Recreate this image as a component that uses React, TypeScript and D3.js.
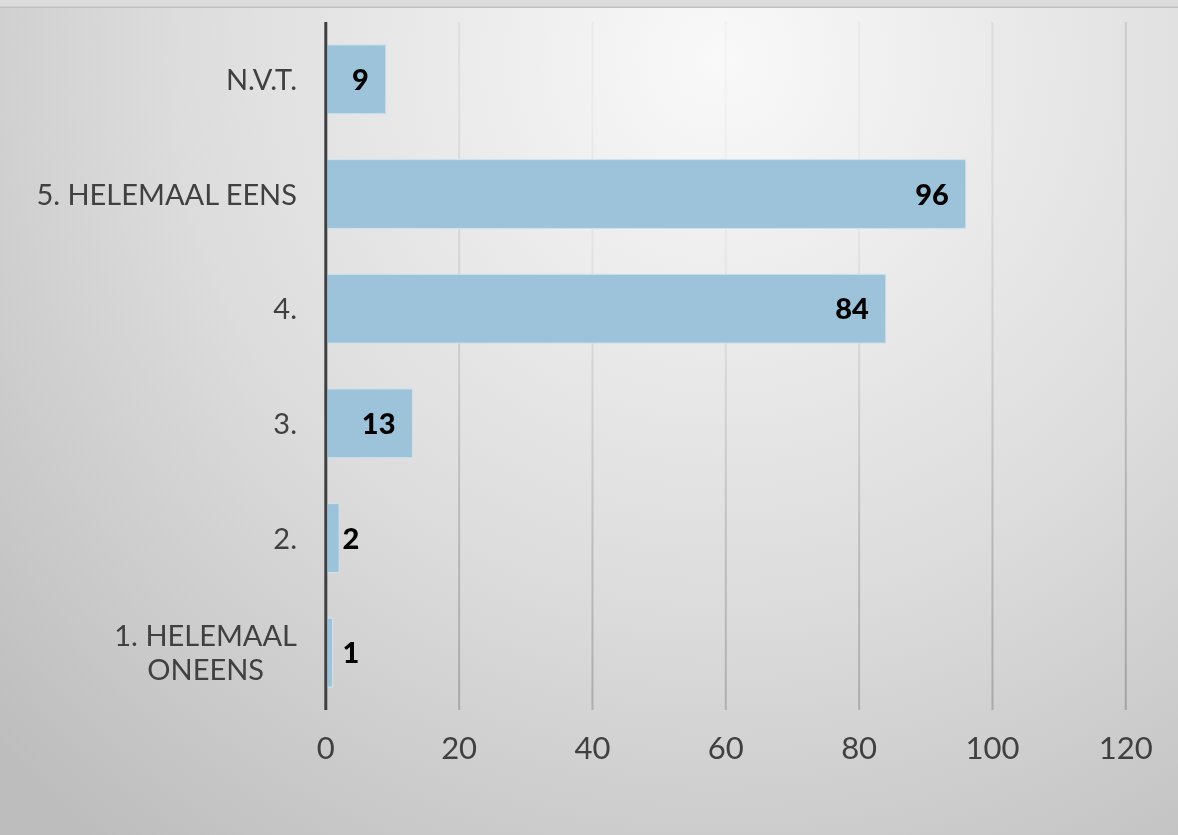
import React, { useEffect, useRef } from "react";
import * as d3 from "d3";

const categories = ["N.V.T.", "5. HELEMAAL EENS", "4.", "3.", "2.", "1. HELEMAAL ONEENS"];
const values = [9, 96, 84, 13, 2, 1];
const tickValues = [0, 20, 40, 60, 80, 100, 120];

const W = 1178;
const H = 835;

export default function App() {
  const ref = useRef<SVGSVGElement | null>(null);

  useEffect(() => {
    const svg = d3.select(ref.current);
    svg.selectAll("*").remove();

    const defs = svg.append("defs");
    const mkGrad = (id: string, stops: [number, string][]) => {
      const g = defs
        .append("radialGradient")
        .attr("id", id)
        .attr("gradientUnits", "userSpaceOnUse")
        .attr("cx", 720)
        .attr("cy", 60)
        .attr("r", 1000);
      stops.forEach(([o, c]) => g.append("stop").attr("offset", o).attr("stop-color", c));
    };
    mkGrad("bg", [
      [0, "#f9f9f9"],
      [0.55, "#dcdcdc"],
      [1, "#bdbdbd"],
    ]);
    mkGrad("grid", [
      [0, "#f3f3f3"],
      [0.2, "#e6e6e6"],
      [0.5, "#bdbdbd"],
      [1, "#8c8c8c"],
    ]);

    svg.append("rect").attr("width", W).attr("height", H).attr("fill", "url(#bg)");
    svg.append("rect").attr("width", W).attr("height", 7).attr("fill", "#dcdcdc");
    svg.append("rect").attr("y", 6.5).attr("width", W).attr("height", 1.5).attr("fill", "#c2c2c2");

    const top = 22;
    const bottom = 710;
    const x = d3.scaleLinear().domain([0, 120]).range([325.8, 1125.8]);
    const y = d3
      .scaleBand<string>()
      .domain(categories)
      .range([top, bottom])
      .paddingInner(0.4)
      .paddingOuter(0.2);

    const font = "'Lato', 'Open Sans', sans-serif";

    // gridlines
    svg
      .append("g")
      .selectAll("rect")
      .data(tickValues.filter((t) => t !== 0))
      .join("rect")
      .attr("x", (d) => x(d) - 1)
      .attr("width", 2)
      .attr("y", top)
      .attr("height", bottom - top)
      .attr("fill", "url(#grid)");

    // bars
    svg
      .append("g")
      .selectAll("rect")
      .data(categories)
      .join("rect")
      .attr("x", x(0) + 1.5)
      .attr("y", (d) => y(d)!)
      .attr("width", (d, i) => Math.max(0, x(values[i]) - x(0) - 1.5))
      .attr("height", y.bandwidth())
      .attr("fill", "#9cc3da")
      .attr("stroke", "#cfe3ef")
      .attr("stroke-width", 1);

    // axis line
    svg
      .append("line")
      .attr("x1", x(0))
      .attr("x2", x(0))
      .attr("y1", top)
      .attr("y2", bottom)
      .attr("stroke", "#404040")
      .attr("stroke-width", 3);

    // tick labels
    svg
      .append("g")
      .selectAll("text")
      .data(tickValues)
      .join("text")
      .attr("x", (d) => x(d))
      .attr("y", 759)
      .attr("text-anchor", "middle")
      .attr("font-family", font)
      .attr("font-size", 31)
      .attr("fill", "#404040")
      .text((d) => String(d));

    // category labels
    const labelRight = 297;
    const lineH = 34;
    const maxLabelW = 270;
    categories.forEach((cat) => {
      const cy = y(cat)! + y.bandwidth() / 2;
      const g = svg.append("g");
      const words = cat.split(" ");
      const measure = g
        .append("text")
        .attr("font-family", font)
        .attr("font-size", 29)
        .attr("visibility", "hidden");
      const lines: string[] = [];
      let cur = "";
      words.forEach((w) => {
        const test = cur ? cur + " " + w : w;
        measure.text(test);
        const len = (measure.node() as SVGTextElement).getComputedTextLength();
        if (len > maxLabelW && cur) {
          lines.push(cur);
          cur = w;
        } else cur = test;
      });
      if (cur) lines.push(cur);
      const widths = lines.map((l) => {
        measure.text(l);
        return (measure.node() as SVGTextElement).getComputedTextLength();
      });
      measure.remove();
      const maxW = Math.max(...widths);
      const cx = labelRight - maxW / 2;
      const firstBase = cy + 10.5 - ((lines.length - 1) * lineH) / 2;
      lines.forEach((l, i) => {
        g.append("text")
          .attr("x", lines.length > 1 ? cx : labelRight)
          .attr("y", firstBase + i * lineH)
          .attr("text-anchor", lines.length > 1 ? "middle" : "end")
          .attr("font-family", font)
          .attr("font-size", 29)
          .attr("fill", "#404040")
          .text(l);
      });
    });

    // value labels
    categories.forEach((cat, i) => {
      const cy = y(cat)! + y.bandwidth() / 2;
      const t = svg
        .append("text")
        .attr("y", cy + 10.5)
        .attr("text-anchor", "middle")
        .attr("font-family", font)
        .attr("font-weight", 900)
        .attr("font-size", 29)
        .attr("fill", "#000000")
        .text(String(values[i]));
      const w = (t.node() as SVGTextElement).getComputedTextLength();
      const cx = Math.max(x(values[i]) - 17 - w / 2, x(0) + 25);
      t.attr("x", cx);
    });
  }, []);

  return (
    <div style={{ position: "fixed", left: 0, top: 0, width: W, height: H }}>
      <svg ref={ref} width={W} height={H} style={{ display: "block" }} />
    </div>
  );
}
